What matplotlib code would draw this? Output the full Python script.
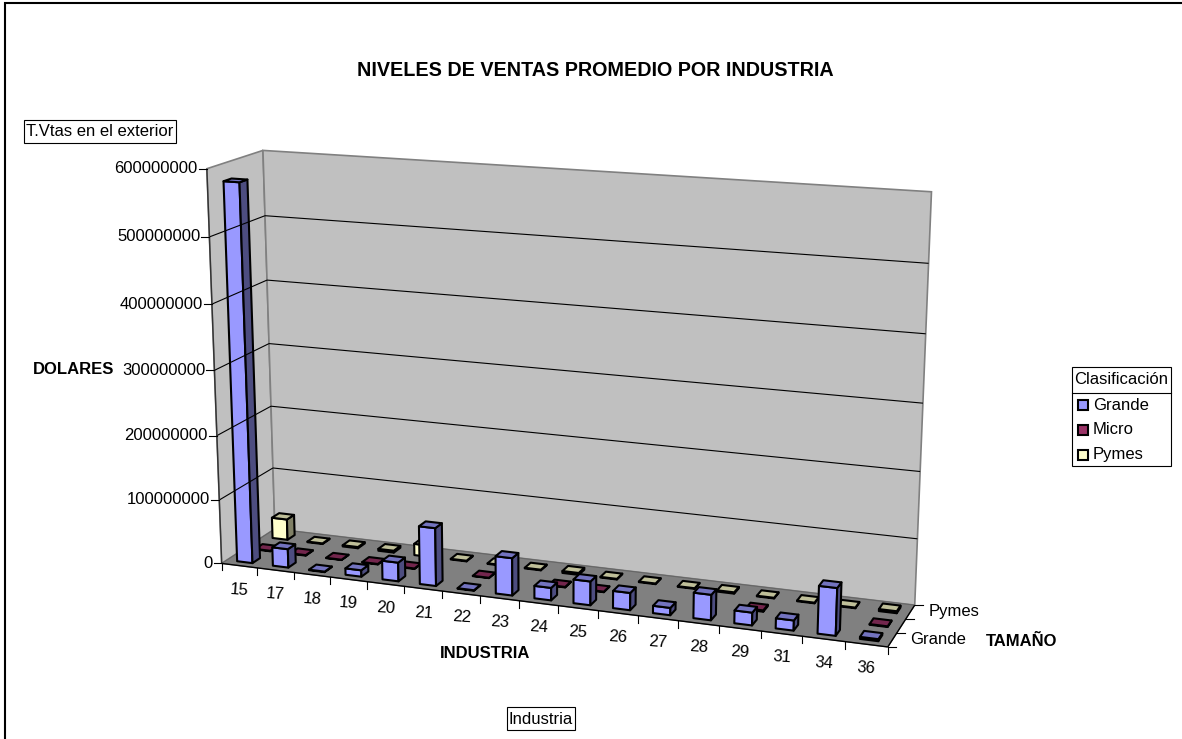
import numpy as np
import matplotlib
matplotlib.use("Agg")
import matplotlib.pyplot as plt
from matplotlib.patches import Polygon, Rectangle

plt.rcParams['font.family'] = ['Liberation Sans', 'DejaVu Sans']

industries = ['15', '17', '18', '19', '20', '21', '22', '23', '24', '25', '26', '27', '28', '29', '31', '34', '36']
sizes = ['Grande', 'Micro', 'Pymes']
# nan = no bar in the original
grande = [580e6, 29e6, 0.8e6, 10e6, 29e6, 89e6, 0.8e6, 57e6, 19e6, 36e6, 26e6, 11e6, 38e6, 19e6, 15e6, 70e6, 3e6]
micro = [0.8e6, 0.8e6, 0.5e6, 0.8e6, 0.8e6, np.nan, 0.5e6, np.nan, 0.8e6, 0.8e6, np.nan, np.nan, np.nan, 2e6, np.nan, np.nan, 1e6]
pymes = [33e6, 1e6, 2e6, 3e6, 18e6, 1e6, 1e6, 1e6, 3e6, 1e6, 1e6, 1e6, 2e6, 1e6, 1e6, 1e6, 3e6]
value_ticks = [0, 100000000, 200000000, 300000000, 400000000, 500000000, 600000000]
vmax = 600000000

face_colors = {
    'Grande': ('#9999FF', '#7373BF', '#4D4D80'),
    'Micro': ('#993366', '#73264D', '#4D1A33'),
    'Pymes': ('#FFFFCC', '#BFBF99', '#808066'),
}

# box corners: (x frac, depth frac, height frac) -> pixel
anchors = [
    ((0, 0, 0), (222, 563)), ((1, 0, 0), (888, 647)),
    ((0, 1, 0), (274, 530)), ((1, 1, 0), (915, 605)),
    ((0, 0, 1), (207, 169)), ((0, 1, 1), (263, 150)), ((1, 1, 1), (932, 192)),
    ((0, 0, 5 / 6), (208, 237)), ((0, 1, 5 / 6), (266, 216)), ((1, 1, 5 / 6), (928, 263)),
    ((0, 0, 1 / 6), (220, 500)), ((0, 1, 1 / 6), (273, 467)), ((1, 1, 1 / 6), (917, 539)),
]


def fit_camera(anchors):
    rows = []
    for (x, y, z), (u, v) in anchors:
        rows.append([x, y, z, 1, 0, 0, 0, 0, -u * x, -u * y, -u * z, -u])
        rows.append([0, 0, 0, 0, x, y, z, 1, -v * x, -v * y, -v * z, -v])
    return np.linalg.svd(np.array(rows, float))[2][-1].reshape(3, 4)


camera = fit_camera(anchors)


def project(x, y, z):
    p = camera @ np.array([x, y, z, 1.0])
    return p[0] / p[2], p[1] / p[2]


def quad(*pts, **kw):
    ax.add_patch(Polygon([project(*p) for p in pts], closed=True, **kw))


def seg(a, b, color='black', lw=0.8):
    (x0, y0), (x1, y1) = project(*a), project(*b)
    ax.plot([x0, x1], [y0, y1], color=color, lw=lw, solid_capstyle='butt')


def boxed(left, top, right, bottom, s):
    ax.add_patch(Rectangle((left, top), right - left, bottom - top, fc='white', ec='black', lw=0.8))
    ax.text((left + right) / 2, (top + bottom) / 2 + 0.5, s, ha='center', va='center', fontsize=12)


fig = plt.figure(figsize=(11.82, 7.39), dpi=100)
ax = fig.add_axes([0, 0, 1, 1])
ax.set_xlim(0, 1182)
ax.set_ylim(739, 0)
ax.axis('off')

# chart frame, only its top and left edges are in view
ax.plot([5, 5, 1182], [739, 3, 3], color='black', lw=1.5, solid_joinstyle='miter')

# walls and floor
wall_edge = '#808080'
quad((0, 0, 0), (0, 1, 0), (0, 1, 1), (0, 0, 1), fc='#C0C0C0', ec=wall_edge, lw=1.2)
quad((0, 1, 0), (1, 1, 0), (1, 1, 1), (0, 1, 1), fc='#C0C0C0', ec=wall_edge, lw=1.2)
quad((0, 0, 0), (1, 0, 0), (1, 1, 0), (0, 1, 0), fc='#808080', ec='#666666', lw=0.8)

for v in value_ticks[1:-1]:
    z = v / vmax
    seg((0, 0, z), (0, 1, z))
    seg((0, 1, z), (1, 1, z))

# axes lines and ticks
seg((0, 0, 0), (0, 0, 1), color='#333333', lw=1)
seg((0, 0, 0), (1, 0, 0), lw=1)
seg((1, 0, 0), (1, 1, 0), lw=1)

for v in value_ticks:
    px, py = project(0, 0, v / vmax)
    ax.plot([px - 8, px], [py, py], color='black', lw=0.8)
    ax.text(px - 9, py, str(v), ha='right', va='center', fontsize=12)

n = len(industries)
for i in range(n + 1):
    px, py = project(i / n, 0, 0)
    ax.plot([px, px], [py, py + 7], color='black', lw=0.8)
for i, name in enumerate(industries):
    px, py = project((i + 0.5) / n, 0, 0)
    ax.text(px, py + 24, name, ha='center', va='center', fontsize=12, rotation=-4)

for j in range(len(sizes) + 1):
    px, py = project(1, j / len(sizes), 0)
    ax.plot([px, px + 8], [py, py], color='black', lw=0.8)
for j in (0, 2):
    px, py = project(1, (j + 0.5) / len(sizes), 0)
    ax.text(px + 18, py, sizes[j], ha='left', va='center', fontsize=12)

# bars, back row first
bar_w = 0.43 / n
bar_d = 0.42 / len(sizes)
for j, (size, values) in reversed(list(enumerate(zip(sizes, [grande, micro, pymes])))):
    front, top, side = face_colors[size]
    yc = (j + 0.5) / len(sizes)
    for i, val in enumerate(values):
        if np.isnan(val):
            continue
        xc = (i + 0.5) / n
        x0, x1 = xc - bar_w / 2, xc + bar_w / 2
        y0, y1 = yc - bar_d / 2, yc + bar_d / 2
        z = val / vmax
        style = dict(ec='black', lw=1.5, joinstyle='round')
        quad((x0, y0, 0), (x1, y0, 0), (x1, y0, z), (x0, y0, z), fc=front, **style)
        quad((x1, y0, 0), (x1, y1, 0), (x1, y1, z), (x1, y0, z), fc=side, **style)
        quad((x0, y0, z), (x1, y0, z), (x1, y1, z), (x0, y1, z), fc=top, **style)

# titles
ax.text(595, 71, 'NIVELES DE VENTAS PROMEDIO POR INDUSTRIA', ha='center', va='center', fontsize=14.2, fontweight='bold')
ax.text(74, 370, 'DOLARES', ha='center', va='center', fontsize=12, fontweight='bold')
ax.text(485, 653, 'INDUSTRIA', ha='center', va='center', fontsize=12, fontweight='bold')
ax.text(1022, 641, 'TAMAÑO', ha='center', va='center', fontsize=12, fontweight='bold')
boxed(24, 120, 176, 143, 'T.Vtas en el exterior')
boxed(507, 707, 575, 730, 'Industria')

# legend
ax.add_patch(Rectangle((1071.5, 366.5), 99.5, 99, fc='white', ec='black', lw=0.8))
ax.plot([1071.5, 1171], [392.5, 392.5], color='black', lw=0.8)
ax.text(1074, 380, 'Clasificación', ha='left', va='center', fontsize=12)
for k, size in enumerate(sizes):
    yy = 405 + 25 * k
    ax.add_patch(Rectangle((1077.5, yy - 5), 10, 10, fc=face_colors[size][0], ec='black', lw=1.5))
    ax.text(1093, yy, size, ha='left', va='center', fontsize=12)

fig.savefig('out.png', dpi=100)
